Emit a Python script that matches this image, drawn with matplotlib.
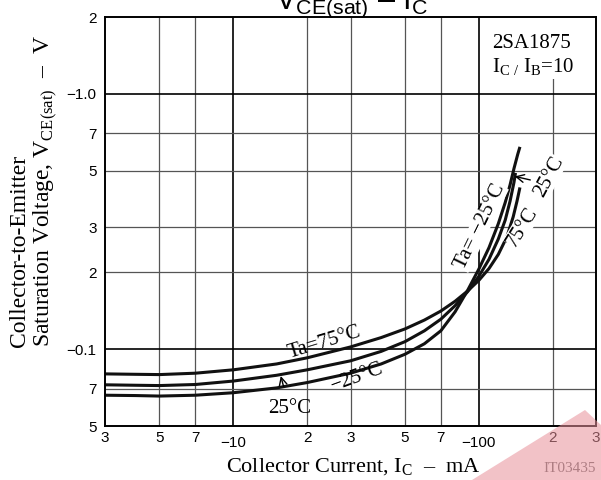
import matplotlib
matplotlib.use('Agg')
import matplotlib.pyplot as plt
from matplotlib.patches import Rectangle, Polygon

plt.rcParams['mathtext.fontset'] = 'custom'
plt.rcParams['mathtext.rm'] = 'Liberation Serif'
plt.rcParams['mathtext.sf'] = 'Liberation Sans'

SERIF = 'Liberation Serif'
SANS = 'Liberation Sans'

# collector current (mA, magnitude) and VCE(sat) (V, magnitude) per temperature
ic_75 = [3, 4, 5, 7, 10, 15, 20, 30, 40, 50, 60, 70, 80, 90, 100, 110, 120, 130, 138, 143, 147]
vce_75 = [0.080, 0.0797, 0.0795, 0.0805, 0.083, 0.0875, 0.0925, 0.102, 0.111, 0.120, 0.130,
          0.141, 0.154, 0.169, 0.186, 0.207, 0.235, 0.275, 0.33, 0.38, 0.43]

ic_25 = [3, 4, 5, 7, 10, 15, 20, 30, 40, 50, 60, 70, 80, 90, 100, 110, 120, 128, 134, 139, 141]
vce_25 = [0.0725, 0.0722, 0.072, 0.0727, 0.075, 0.079, 0.083, 0.090, 0.098, 0.107, 0.118,
          0.131, 0.148, 0.168, 0.193, 0.225, 0.27, 0.32, 0.38, 0.45, 0.49]

ic_m25 = [3, 4, 5, 7, 10, 15, 20, 30, 40, 50, 60, 70, 80, 90, 100, 110, 120, 128, 134, 139, 144, 147]
vce_m25 = [0.066, 0.0658, 0.0655, 0.066, 0.0675, 0.0705, 0.074, 0.0805, 0.0875, 0.0955, 0.105,
           0.118, 0.140, 0.170, 0.206, 0.25, 0.31, 0.375, 0.44, 0.51, 0.58, 0.62]

x_ticks = [3, 5, 7, 10, 20, 30, 50, 70, 100, 200, 300]
x_labels = ['3', '5', '7', '\u221210', '2', '3', '5', '7', '\u2212100', '2', '3']
y_ticks = [0.05, 0.07, 0.1, 0.2, 0.3, 0.5, 0.7, 1.0, 2]
y_labels = ['5', '7', '\u22120.1', '2', '3', '5', '7', '\u22121.0', '2']
x_decades = [10, 100]
y_decades = [0.1, 1.0]

W, H = 601, 480
fig = plt.figure(figsize=(W / 100, H / 100), dpi=100)
ax = fig.add_axes([105 / W, 1 - 426 / H, (596 - 105) / W, (426 - 17) / H])
ax.set_xscale('log')
ax.set_yscale('log')
ax.set_xlim(3, 300)
ax.set_ylim(0.05, 2)

# grid: decades dark, the rest grey
for x in x_ticks[1:-1]:
    if x in x_decades:
        ax.axvline(x, color='black', lw=1.2, zorder=1)
    else:
        ax.axvline(x, color='#555555', lw=0.9, zorder=1)
for y in y_ticks[1:-1]:
    if y in y_decades:
        ax.axhline(y, color='black', lw=1.2, zorder=1)
    else:
        ax.axhline(y, color='#555555', lw=0.9, zorder=1)

# white box behind the part number
ax.add_patch(Rectangle((0.766, 0.848), 0.234, 0.152, transform=ax.transAxes,
                       facecolor='white', edgecolor='none', zorder=2))

for ic, v in [(ic_75, vce_75), (ic_25, vce_25), (ic_m25, vce_m25)]:
    ax.plot(ic, v, color='#111111', lw=2.2, solid_capstyle='butt',
            solid_joinstyle='round', zorder=3)

for s in ax.spines.values():
    s.set_linewidth(1.4)
    s.set_zorder(5)

ax.set_yticks(y_ticks)
ax.set_yticklabels(y_labels, fontfamily=SANS, fontsize=11)
ax.yaxis.set_minor_locator(plt.NullLocator())
ax.xaxis.set_minor_locator(plt.NullLocator())
ax.set_xticks(x_ticks)
ax.set_xticklabels([''] * len(x_ticks))
ax.tick_params(axis='both', length=0, pad=6)

for x, lab in zip(x_ticks, x_labels):
    off = 7.5 if lab.startswith('\u2212') else 3.5
    ax.annotate(lab, xy=(x, 0), xycoords=ax.get_xaxis_transform(),
                xytext=(0, -off), textcoords='offset points',
                ha='center', va='top', fontsize=11, fontfamily=SANS)

# curve labels
txt = dict(fontfamily=SERIF, fontsize=15, ha='center', va='center', zorder=4)
ax.text(23.5, 0.1056, 'Ta=75\u00b0C', rotation=17, **txt)
ax.text(31.8, 0.0777, '\u221225\u00b0C', rotation=20, **txt)
ax.annotate('25\u00b0C', xy=(15.6, 0.0785), xytext=(16.9, 0.0587),
            fontfamily=SERIF, fontsize=15, ha='center', va='center',
            arrowprops=dict(arrowstyle='->', color='black', lw=1,
                            shrinkA=7, shrinkB=0, mutation_scale=14))
ax.text(100.9, 0.301, 'Ta= \u221225\u00b0C', rotation=64,
        bbox=dict(facecolor='white', edgecolor='none', pad=0.2), **txt)
ax.text(150, 0.301, '75\u00b0C', rotation=58,
        bbox=dict(facecolor='white', edgecolor='none', pad=0.2), **txt)
ax.text(193, 0.473, '25\u00b0C', rotation=62,
        bbox=dict(facecolor='white', edgecolor='none', pad=0.3), **txt)
ax.annotate('', xy=(140, 0.475), xytext=(162, 0.46),
            arrowprops=dict(arrowstyle='->', color='black', lw=1,
                            shrinkA=0, shrinkB=0, mutation_scale=14))

ax.text(113, 1.51, '2SA1875', fontfamily=SERIF, fontsize=15,
        ha='left', va='baseline', zorder=4)
ax.text(113, 1.21, 'I$_{\\mathrm{C\\ /\\ }}$I$_{\\mathrm{B}}$=10', fontfamily=SERIF,
        fontsize=15, ha='left', va='baseline', zorder=4)

# title (clipped at the top edge as in the source)
fig.text(352 / W, 1 - 9 / H, 'V$_{\\mathsf{CE(sat)}}$ \u2013 I$_{\\mathsf{C}}$',
         fontfamily=SANS, fontsize=22, ha='center', va='baseline')

# axis labels
fig.text(20 / W, 1 - 347 / H, 'Collector-to-Emitter', rotation=90,
         rotation_mode='anchor', ha='left', va='center',
         fontfamily=SERIF, fontsize=17)
fig.text(45 / W, 1 - 347 / H, 'Saturation Voltage, V$_{\\mathrm{CE(sat)}}$  \u2013  V',
         rotation=90, rotation_mode='anchor', ha='left', va='center',
         fontfamily=SERIF, fontsize=17)
fig.text(353 / W, 1 - 472 / H, 'Collector Current, I$_{\\mathrm{C}}$  \u2013  mA',
         ha='center', va='baseline', fontfamily=SERIF, fontsize=16)
fig.text(596 / W, 1 - 472 / H, 'IT03435', ha='right', va='baseline',
         fontfamily=SERIF, fontsize=11, color='#666666')

# faint watermark in the lower right corner
fig.add_artist(Polygon([(472 / W, 0), (585 / W, 70 / H), (1, 55 / H), (1, 0)],
                       closed=True, transform=fig.transFigure,
                       facecolor='#e8909a', edgecolor='none', alpha=0.55, zorder=6))

fig.savefig('out.png', dpi=100)
